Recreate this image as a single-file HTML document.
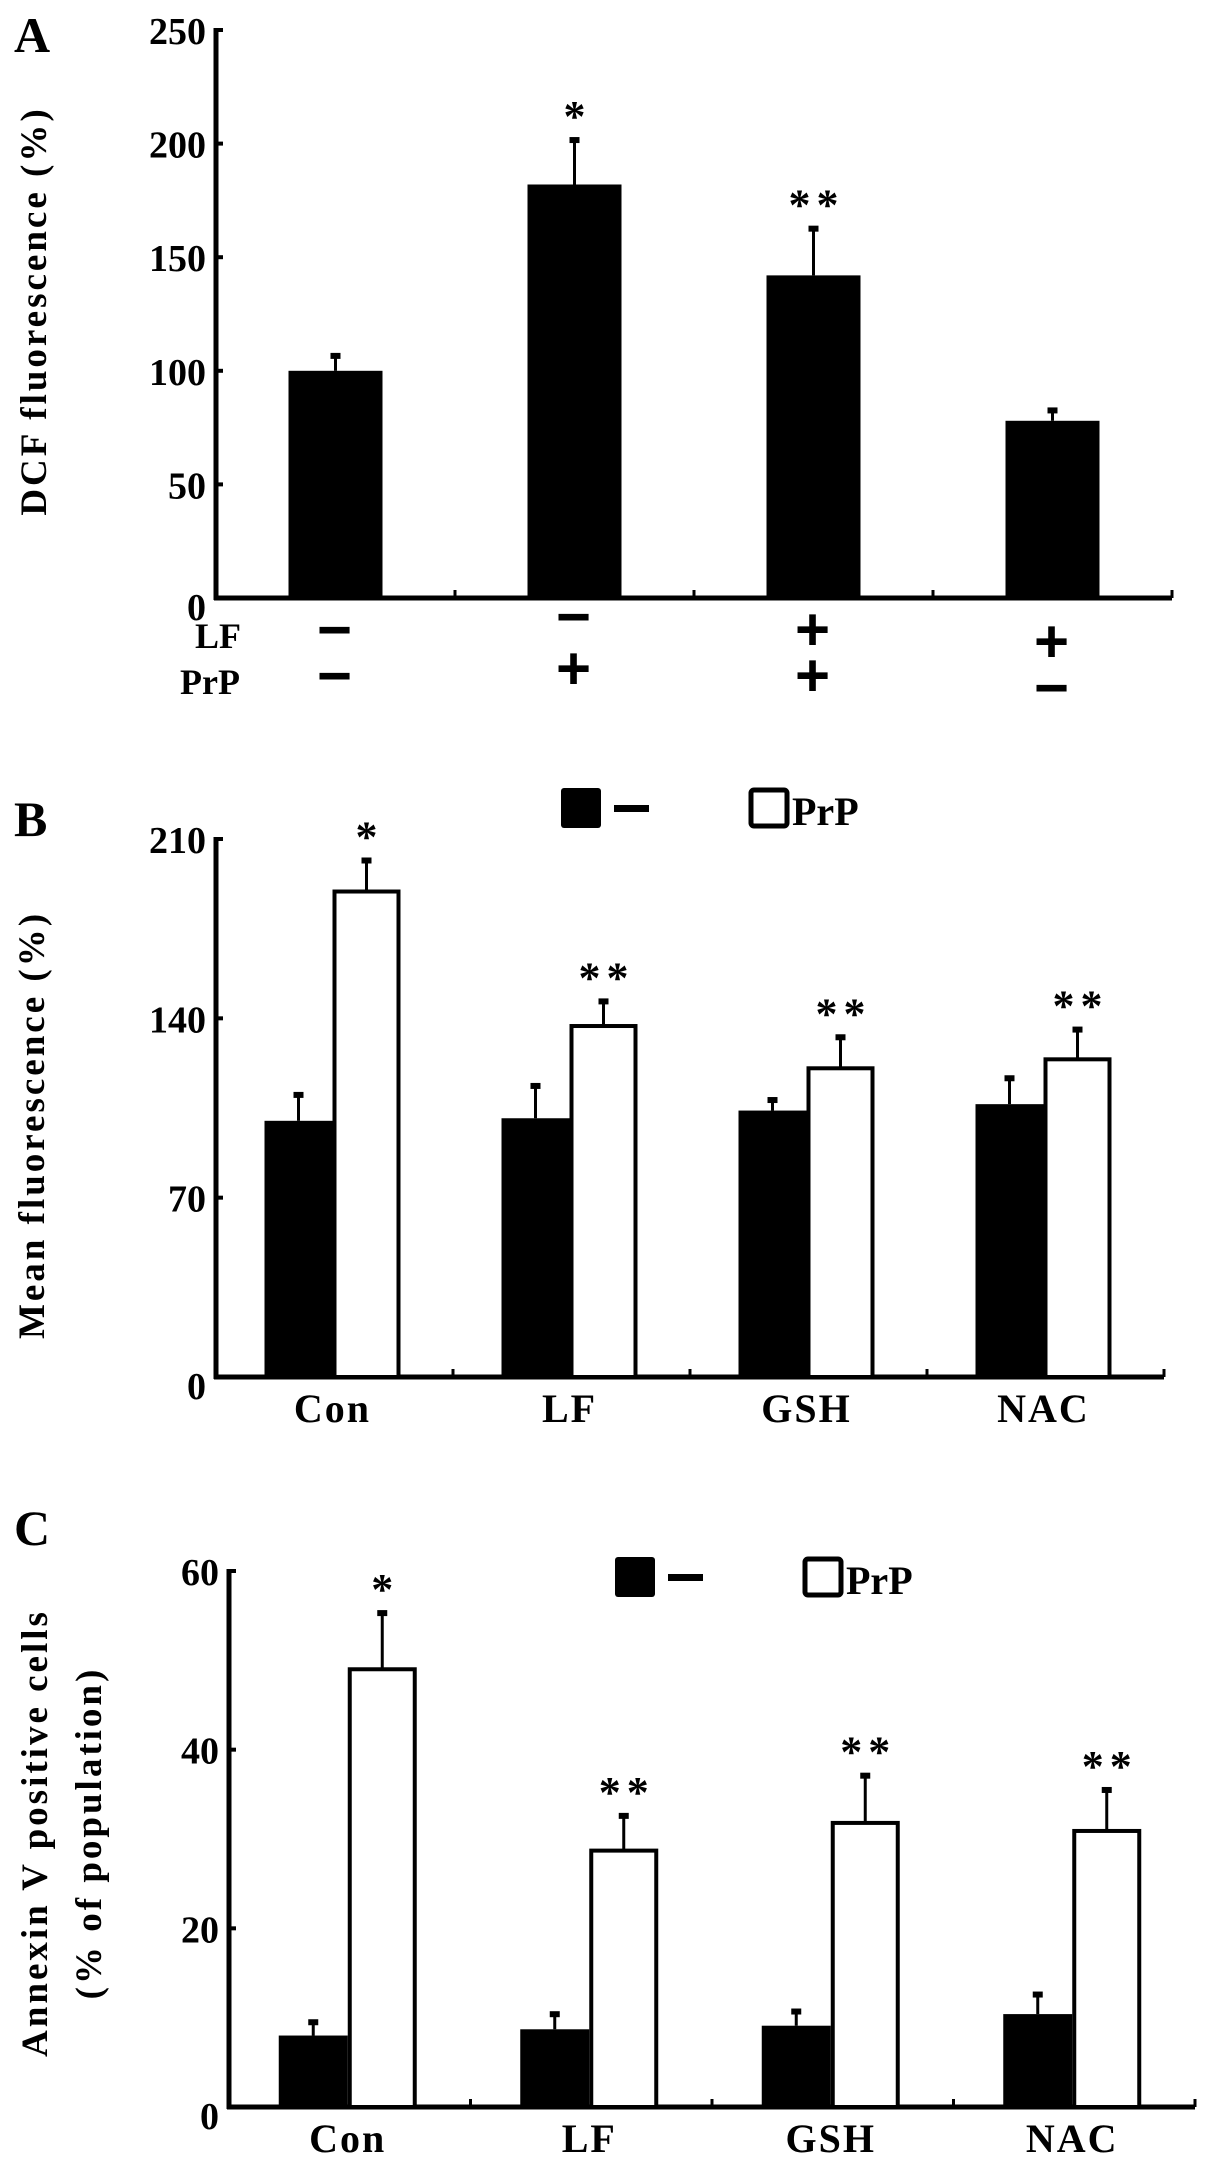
<!DOCTYPE html>
<html><head><meta charset="utf-8"><style>
html,body{margin:0;padding:0;background:#fff;}
svg{display:block;font-family:"Liberation Serif","Times New Roman",serif;font-weight:bold;}
</style></head><body>
<svg id="fig" width="1205" height="2175" viewBox="0 0 1205 2175" xmlns="http://www.w3.org/2000/svg">
<text x="14" y="52" font-size="50">A</text>
<text x="14" y="836" font-size="50">B</text>
<text x="14" y="1545" font-size="50">C</text>
<text transform="translate(46,311) rotate(-90)" text-anchor="middle" font-size="37" letter-spacing="3">DCF fluorescence (%)</text>
<text transform="translate(44,1125) rotate(-90)" text-anchor="middle" font-size="37" letter-spacing="3">Mean fluorescence (%)</text>
<text transform="translate(47,1833) rotate(-90)" text-anchor="middle" font-size="37" letter-spacing="3">Annexin V positive cells</text>
<text transform="translate(101,1833) rotate(-90)" text-anchor="middle" font-size="37" letter-spacing="3">(% of population)</text>
<text x="195" y="648" font-size="36">LF</text>
<text x="180" y="694" font-size="36">PrP</text>
</svg>
<script>
// Panel A data
const aCategories = ["1","2","3","4"];
const aValues = [100, 182, 142, 78];
const aErrors = [107, 202, 163, 83];
const aStars = ["", "*", "**", ""];
const aTicks = [0, 50, 100, 150, 200, 250];
const aLF = ["−", "−", "+", "+"];
const aPrP = ["−", "+", "+", "−"];
// Panel B data
const bCategories = ["Con", "LF", "GSH", "NAC"];
const bControl = [100, 101, 104, 106.5];
const bControlErr = [110.5, 114, 108.5, 117];
const bPrP = [189.5, 137, 120.5, 124];
const bPrPErr = [202, 147, 133, 136];
const bStars = ["*", "**", "**", "**"];
const bTicks = [0, 70, 140, 210];
// Panel C data
const cCategories = ["Con", "LF", "GSH", "NAC"];
const cControl = [8.0, 8.7, 9.1, 10.4];
const cControlErr = [9.6, 10.5, 10.8, 12.7];
const cPrP = [49, 28.7, 31.8, 30.9];
const cPrPErr = [55.4, 32.7, 37.2, 35.6];
const cStars = ["*", "**", "**", "**"];
const cTicks = [0, 20, 40, 60];

const svg = document.getElementById('fig');
const NS = "http://www.w3.org/2000/svg";
function mk(tag, attrs, txt){
  const e = document.createElementNS(NS, tag);
  for (const k in attrs) e.setAttribute(k, attrs[k]);
  if (txt !== undefined) e.textContent = txt;
  svg.appendChild(e);
  return e;
}

function axes(p, ticks, prefix){
  const ax = mk('line', {x1:p.x0, y1:p.yTop-2, x2:p.x0, y2:p.y0+2, stroke:'#000','stroke-width':5});
  
  
  const bx = mk('line', {x1:p.x0-2, y1:p.y0, x2:p.x1, y2:p.y0, stroke:'#000','stroke-width':5});
  
  
  ticks.forEach(t => {
    const y = p.ys(t);
    if (t !== 0) {
      const tk = mk('line', {x1:p.x0, y1:y, x2:p.x0+7, y2:y, stroke:'#000','stroke-width':4});
      
      
    }
    const lb = mk('text', {x:p.x0-10, y:(t===0? y+22 : y+14), 'text-anchor':'end','font-size':38}, String(t));
    
    
  });
  const n = p.n, w = (p.x1-p.x0)/n;
  for (let i=1;i<=n;i++){
    const x = p.x0 + w*i;
    const tk = mk('line', {x1:x, y1:p.y0, x2:x, y2:p.y0-8, stroke:'#000','stroke-width':3});
    
    
  }
}

function errbar(x, yv, ye, prefix){
  const l = mk('line', {x1:x, y1:yv, x2:x, y2:ye, stroke:'#000','stroke-width':3});
  
  
  const c = mk('rect', {x:x-5, y:ye-2, width:10, height:6, fill:'#000'});
  
  
}

function star(x, y, s, prefix){
  if (!s) return;
  const t = mk('text', {x:x, y:y, 'text-anchor':'middle','font-size':44,'letter-spacing':6}, s);
  
  
}

// ---- Panel A ----
(function(){
  const p = {x0:216, x1:1172, y0:598, yTop:30, n:aCategories.length};
  p.ys = v => p.y0 - (v/250)*(p.y0-p.yTop);
  axes(p, aTicks, 'panel-a');
  const w = (p.x1-p.x0)/p.n;
  aValues.forEach((v,i) => {
    const cx = p.x0 + w*(i+0.5);
    const y = p.ys(v);
    const r = mk('rect', {x:cx-47, y:y, width:94, height:p.y0-y, fill:'#000'});
    
    
    errbar(cx, y, p.ys(aErrors[i]), 'panel-a');
    star(cx+3, p.ys(aErrors[i])-8, aStars[i], 'panel-a');
  });
  const lfY = [650, 637, 650, 662];
  const prY = [696, 689, 696, 708];
  aLF.forEach((s,i) => {
    const cx = p.x0 + w*(i+0.5) - 1;
    const t = mk('text', {x:cx, y:lfY[i], 'text-anchor':'middle','font-size':60,'font-family':'Liberation Sans, sans-serif'}, s);
    
    
    const t2 = mk('text', {x:cx, y:prY[i], 'text-anchor':'middle','font-size':60,'font-family':'Liberation Sans, sans-serif'}, aPrP[i]);
    
    
  });
})();

function grouped(p, cats, ctrl, ctrlErr, prp, prpErr, stars, ticks, prefix, leg){
  axes(p, ticks, prefix);
  const w = (p.x1-p.x0)/p.n, bw = p.bw;
  cats.forEach((c,i) => {
    const cx = p.x0 + w*(i+0.5) - 2;
    const y1 = p.ys(ctrl[i]);
    const r = mk('rect', {x:cx-bw, y:y1, width:bw, height:p.y0-y1, fill:'#000'});
    
    
    errbar(cx-bw/2, y1, p.ys(ctrlErr[i]), prefix);
    const y2 = p.ys(prp[i]);
    const r2 = mk('rect', {x:cx+2, y:y2, width:bw-4, height:p.y0-y2, fill:'#fff', stroke:'#000','stroke-width':4});
    
    
    errbar(cx+bw/2, y2, p.ys(prpErr[i]), prefix);
    star(cx+bw/2+3, p.ys(prpErr[i])-8, stars[i], prefix);
    const lb = mk('text', {x:cx, y:p.labY, 'text-anchor':'middle','font-size':40,'letter-spacing':2}, c);
    
    
  });
  const k1 = mk('rect', {x:leg.x, y:leg.y, width:40, height:40, rx:3, fill:'#000'});
  
  
  const d = mk('rect', {x:leg.x+53, y:leg.y+17, width:35, height:7, fill:'#000'});
  
  
  const k2 = mk('rect', {x:leg.x+190, y:leg.y+2, width:36, height:36, rx:3, fill:'#fff', stroke:'#000','stroke-width':5});
  
  
  const t = mk('text', {x:leg.x+231, y:leg.y+37, 'font-size':40}, 'PrP');
  
  
}

(function(){
  const p = {x0:216, x1:1164, y0:1377, yTop:839, n:bCategories.length, bw:68, labY:1422};
  p.ys = v => p.y0 - (v/210)*(p.y0-p.yTop);
  grouped(p, bCategories, bControl, bControlErr, bPrP, bPrPErr, bStars, bTicks, 'panel-b', {x:561, y:788});
})();
(function(){
  const p = {x0:229, x1:1195, y0:2107, yTop:1571, n:cCategories.length, bw:69, labY:2152};
  p.ys = v => p.y0 - (v/60)*(p.y0-p.yTop);
  grouped(p, cCategories, cControl, cControlErr, cPrP, cPrPErr, cStars, cTicks, 'panel-c', {x:615, y:1557});
})();
</script>
</body></html>
